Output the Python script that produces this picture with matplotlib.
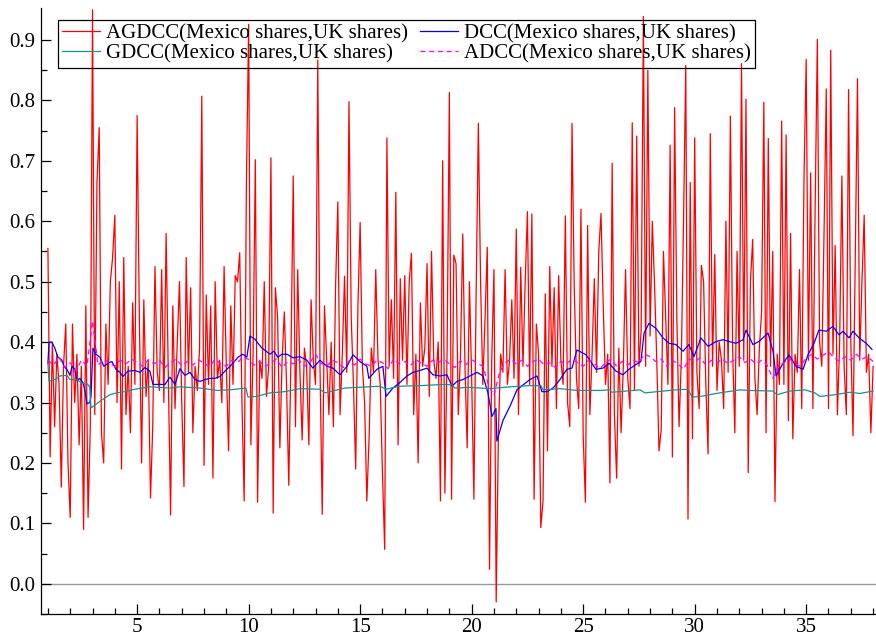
import matplotlib
matplotlib.use("Agg")
import matplotlib.pyplot as plt
import numpy as np

plt.rcParams['font.family'] = ['Liberation Serif', 'DejaVu Serif']

# AGDCC correlation, ten observations per unit from 1.0 to 38.0
agdcc = [
    0.555, 0.21, 0.40, 0.26, 0.38, 0.33, 0.16, 0.36, 0.43, 0.20,
    0.11, 0.43, 0.30, 0.38, 0.23, 0.36, 0.09, 0.46, 0.11, 0.26,
    0.95, 0.28, 0.665, 0.755, 0.25, 0.20, 0.43, 0.33, 0.50, 0.54,
    0.61, 0.30, 0.50, 0.19, 0.54, 0.28, 0.36, 0.25, 0.465, 0.33,
    0.775, 0.44, 0.20, 0.47, 0.31, 0.37, 0.142, 0.26, 0.525, 0.35,
    0.32, 0.52, 0.30, 0.58, 0.34, 0.114, 0.46, 0.29, 0.40, 0.50,
    0.30, 0.161, 0.54, 0.35, 0.49, 0.25, 0.36, 0.32, 0.39, 0.807,
    0.196, 0.478, 0.33, 0.46, 0.175, 0.50, 0.34, 0.37, 0.30, 0.525,
    0.36, 0.22, 0.46, 0.33, 0.51, 0.50, 0.548, 0.30, 0.137, 0.664,
    0.926, 0.23, 0.38, 0.702, 0.135, 0.37, 0.34, 0.50, 0.31, 0.36,
    0.705, 0.117, 0.49, 0.44, 0.225, 0.37, 0.45, 0.33, 0.163, 0.38,
    0.675, 0.26, 0.52, 0.35, 0.238, 0.39, 0.36, 0.23, 0.47, 0.37,
    0.33, 0.867, 0.36, 0.115, 0.46, 0.37, 0.28, 0.40, 0.26, 0.495,
    0.632, 0.28, 0.38, 0.509, 0.35, 0.798, 0.44, 0.33, 0.19, 0.46,
    0.598, 0.36, 0.30, 0.137, 0.24, 0.39, 0.35, 0.52, 0.37, 0.33,
    0.185, 0.057, 0.738, 0.36, 0.47, 0.34, 0.648, 0.23, 0.505, 0.37,
    0.51, 0.33, 0.50, 0.547, 0.28, 0.38, 0.20, 0.465, 0.36, 0.39,
    0.53, 0.31, 0.55, 0.37, 0.34, 0.40, 0.137, 0.70, 0.15, 0.39,
    0.813, 0.14, 0.544, 0.53, 0.28, 0.38, 0.579, 0.36, 0.225, 0.50,
    0.34, 0.14, 0.48, 0.762, 0.50, 0.33, 0.44, 0.557, 0.024, 0.37,
    0.52, -0.03, 0.25, 0.38, 0.35, 0.52, 0.33, 0.37, 0.47, 0.34,
    0.587, 0.28, 0.524, 0.36, 0.50, 0.616, 0.33, 0.612, 0.14, 0.43,
    0.38, 0.093, 0.137, 0.48, 0.22, 0.525, 0.36, 0.49, 0.29, 0.51,
    0.37, 0.33, 0.609, 0.30, 0.26, 0.762, 0.49, 0.34, 0.29, 0.62,
    0.245, 0.135, 0.593, 0.28, 0.38, 0.505, 0.35, 0.55, 0.613, 0.46,
    0.33, 0.38, 0.167, 0.696, 0.28, 0.175, 0.39, 0.25, 0.36, 0.52,
    0.34, 0.29, 0.763, 0.32, 0.741, 0.36, 0.42, 0.939, 0.36, 0.85,
    0.41, 0.60, 0.495, 0.37, 0.22, 0.255, 0.55, 0.44, 0.33, 0.726,
    0.21, 0.788, 0.44, 0.26, 0.37, 0.60, 0.858, 0.107, 0.664, 0.24,
    0.738, 0.35, 0.29, 0.527, 0.50, 0.33, 0.215, 0.745, 0.36, 0.545,
    0.32, 0.40, 0.37, 0.29, 0.60, 0.35, 0.774, 0.39, 0.25, 0.55,
    0.36, 0.861, 0.37, 0.802, 0.184, 0.50, 0.57, 0.34, 0.28, 0.39,
    0.45, 0.797, 0.25, 0.737, 0.36, 0.55, 0.136, 0.38, 0.33, 0.766,
    0.33, 0.743, 0.27, 0.58, 0.24, 0.38, 0.35, 0.52, 0.29, 0.668,
    0.868, 0.37, 0.68, 0.29, 0.62, 0.901, 0.40, 0.36, 0.58, 0.819,
    0.29, 0.883, 0.38, 0.56, 0.28, 0.40, 0.675, 0.36, 0.28, 0.818,
    0.40, 0.245, 0.54, 0.836, 0.37, 0.50, 0.61, 0.35, 0.38, 0.25,
    0.36,
]

dcc_t = [1.0, 1.05, 1.18, 1.31, 1.45, 1.63, 1.72, 1.85, 1.99, 2.08, 2.21, 2.30,
         2.43, 2.57, 2.66, 2.75, 2.88, 2.93, 3.02, 3.15, 3.33, 3.51, 3.69, 3.87,
         4.05, 4.23, 4.36, 4.59, 4.90, 5.13, 5.35, 5.57, 5.71, 6.02, 6.25, 6.47,
         6.70, 6.92, 7.14, 7.37, 7.59, 7.82, 8.04, 8.26, 8.49, 8.71, 8.94, 9.16,
         9.30, 9.52, 9.74, 9.92, 10.06, 10.28, 10.42, 10.60, 10.78, 10.96, 11.13,
         11.31, 11.49, 11.72, 11.99, 12.30, 12.61, 12.88, 13.20, 13.51, 13.78,
         14.09, 14.41, 14.68, 14.99, 15.30, 15.39, 15.75, 16.02, 16.16, 16.47,
         16.78, 17.10, 17.37, 17.68, 18.00, 18.26, 18.58, 18.89, 19.12, 19.34,
         19.61, 19.92, 20.24, 20.51, 20.73, 20.91, 21.09, 21.13, 21.40, 21.72,
         22.03, 22.30, 22.61, 22.93, 23.15, 23.38, 23.65, 23.96, 24.27, 24.50,
         24.72, 25.13, 25.57, 25.89, 26.16, 26.47, 26.78, 27.05, 27.37, 27.59,
         27.73, 27.95, 28.26, 28.58, 28.85, 29.16, 29.48, 29.74, 29.97, 30.28,
         30.60, 30.96, 31.27, 31.54, 31.85, 32.17, 32.30, 32.61, 32.88, 33.29,
         33.51, 33.65, 33.96, 34.23, 34.54, 34.86, 35.08, 35.35, 35.57, 35.89,
         36.20, 36.47, 36.65, 36.92, 37.10, 37.37, 37.69, 37.95]
dcc = [0.365, 0.40, 0.40, 0.39, 0.375, 0.37, 0.36, 0.355, 0.345, 0.36, 0.355, 0.336,
       0.34, 0.333, 0.32, 0.298, 0.30, 0.31, 0.39, 0.38, 0.375, 0.36, 0.365, 0.368,
       0.355, 0.35, 0.343, 0.352, 0.353, 0.35, 0.358, 0.352, 0.33, 0.33, 0.33, 0.342,
       0.33, 0.356, 0.345, 0.35, 0.338, 0.335, 0.338, 0.34, 0.34, 0.343, 0.352, 0.36,
       0.365, 0.375, 0.38, 0.375, 0.41, 0.405, 0.398, 0.39, 0.385, 0.38, 0.385,
       0.375, 0.38, 0.38, 0.374, 0.376, 0.37, 0.357, 0.37, 0.36, 0.357,
       0.346, 0.36, 0.379, 0.368, 0.36, 0.34, 0.355, 0.36, 0.31, 0.324,
       0.333, 0.344, 0.35, 0.353, 0.357, 0.346, 0.344, 0.346, 0.327, 0.335,
       0.338, 0.344, 0.35, 0.344, 0.316, 0.277, 0.29, 0.236, 0.27, 0.294,
       0.321, 0.329, 0.338, 0.344, 0.318, 0.318, 0.324, 0.338, 0.355, 0.357,
       0.387, 0.379, 0.355, 0.357, 0.365, 0.352, 0.346, 0.355, 0.363, 0.368,
       0.415, 0.431, 0.423, 0.407, 0.398, 0.396, 0.385, 0.396, 0.376, 0.407,
       0.393, 0.401, 0.404, 0.401, 0.398, 0.404, 0.42, 0.396, 0.401, 0.415,
       0.385, 0.344, 0.365, 0.379, 0.36, 0.355, 0.379, 0.398, 0.42, 0.418,
       0.426, 0.412, 0.418, 0.407, 0.418, 0.407, 0.398, 0.388]

gdcc_t = [1.0, 1.05, 1.31, 1.54, 1.85, 1.99, 2.30, 2.52, 2.79, 2.88, 2.93, 3.33,
          3.78, 4.09, 4.45, 4.90, 5.57, 6.47, 6.92, 7.82, 8.58, 9.16, 9.88, 9.97,
          10.33, 10.96, 11.63, 12.30, 13.20, 13.42, 14.32, 15.89, 16.16, 16.78,
          17.68, 18.80, 19.12, 19.25, 19.92, 20.82, 21.72, 22.61, 23.11, 23.20,
          23.96, 24.72, 25.75, 26.20, 26.29, 27.55, 27.77, 29.16, 29.70, 29.88,
          30.24, 31.13, 32.03, 32.48, 33.51, 33.69, 34.27, 34.95, 35.39, 35.62,
          36.29, 36.96, 37.41, 38.0]
gdcc = [0.365, 0.335, 0.338, 0.344, 0.345, 0.338, 0.338, 0.332, 0.33, 0.325, 0.291, 0.302,
        0.313, 0.316, 0.318, 0.322, 0.326, 0.324, 0.326, 0.324, 0.32, 0.321, 0.324, 0.309,
        0.31, 0.316, 0.318, 0.323, 0.322, 0.316, 0.324, 0.327, 0.322, 0.327,
        0.328, 0.33, 0.329, 0.324, 0.325, 0.323, 0.326, 0.328, 0.328, 0.321,
        0.323, 0.32, 0.32, 0.321, 0.317, 0.321, 0.316, 0.321, 0.322, 0.309,
        0.31, 0.316, 0.321, 0.32, 0.319, 0.313, 0.319, 0.321, 0.316, 0.31,
        0.313, 0.317, 0.315, 0.319]

# ADCC, four observations per unit
adcc = [
    0.370, 0.362, 0.375, 0.358,
    0.366, 0.352, 0.370, 0.360,
    0.435, 0.362, 0.372, 0.365,
    0.360, 0.370, 0.364, 0.372,
    0.366, 0.360, 0.371, 0.364,
    0.370, 0.358, 0.366, 0.372,
    0.361, 0.368, 0.362, 0.371,
    0.365, 0.359, 0.372, 0.364,
    0.360, 0.370, 0.366, 0.376,
    0.371, 0.362, 0.368, 0.360,
    0.366, 0.372, 0.358, 0.368,
    0.364, 0.371, 0.360, 0.366,
    0.380, 0.365, 0.360, 0.370,
    0.366, 0.358, 0.369, 0.362,
    0.372, 0.364, 0.360, 0.370,
    0.366, 0.356, 0.372, 0.364,
    0.368, 0.361, 0.371, 0.365,
    0.360, 0.370, 0.366, 0.372,
    0.364, 0.358, 0.369, 0.363,
    0.371, 0.365, 0.360, 0.330,
    0.312, 0.350, 0.366, 0.372,
    0.364, 0.370, 0.360, 0.368,
    0.372, 0.362, 0.366, 0.358,
    0.368, 0.364, 0.372, 0.366,
    0.360, 0.370, 0.364, 0.356,
    0.366, 0.372, 0.360, 0.368,
    0.362, 0.370, 0.366, 0.380,
    0.376, 0.368, 0.372, 0.360,
    0.370, 0.364, 0.355, 0.372,
    0.368, 0.374, 0.362, 0.370,
    0.366, 0.372, 0.364, 0.370,
    0.376, 0.366, 0.372, 0.364,
    0.370, 0.362, 0.340, 0.360,
    0.366, 0.372, 0.364, 0.360,
    0.374, 0.380, 0.372, 0.378,
    0.384, 0.374, 0.368, 0.376,
    0.370, 0.380, 0.372, 0.376,
    0.368,
]

names = ["AGDCC(Mexico shares,UK shares)", "DCC(Mexico shares,UK shares)",
         "GDCC(Mexico shares,UK shares)", "ADCC(Mexico shares,UK shares)"]

t_agdcc = 1 + np.arange(len(agdcc)) / 10
t_adcc = 1 + np.arange(len(adcc)) / 4

fig = plt.figure(figsize=(8.76, 6.42), dpi=100)
ax = fig.add_axes([41 / 876, 28 / 642, 835 / 876, 606 / 642])

ax.axhline(0, color='#999999', lw=1.0, zorder=1)
l1, = ax.plot(t_agdcc, agdcc, color='#ff0000', lw=0.9, zorder=2)
l2, = ax.plot(dcc_t, dcc, color='#0000ff', lw=0.9, zorder=3)
l3, = ax.plot(gdcc_t, gdcc, color='#1b8f8f', lw=0.9, zorder=3)
l4, = ax.plot(t_adcc, adcc, color='#ff00ff', lw=0.9, ls=(0, (4, 3)), zorder=4)

ax.set_xlim(0.69, 38.13)
ax.set_ylim(-0.049, 0.953)

ax.spines['top'].set_visible(False)
ax.spines['right'].set_visible(False)
ax.spines['left'].set_linewidth(0.9)
ax.spines['bottom'].set_linewidth(0.9)

ax.set_xticks([5, 10, 15, 20, 25, 30, 35])
ax.set_xticks(np.arange(1, 39), minor=True)
ax.set_yticks(np.arange(0, 0.95, 0.1))
ax.set_yticks(np.arange(-0.05, 0.95, 0.05), minor=True)
ax.yaxis.set_major_formatter(matplotlib.ticker.FormatStrFormatter('%.1f'))
ax.tick_params(which='both', direction='in', top=False, right=False,
               labelsize=15, width=0.9)
ax.tick_params(which='major', length=7)
ax.tick_params(which='minor', length=4)
ax.tick_params(axis='y', pad=4)
ax.tick_params(axis='x', pad=3)

# legend box without fill, thin black frame, two columns
leg = ax.legend([l1, l3, l2, l4], [names[0], names[2], names[1], names[3]],
                ncol=2, loc='upper left', bbox_to_anchor=(17 / 835, 1 - 12 / 606),
                fontsize=15, frameon=True, fancybox=False, facecolor='none',
                edgecolor='black', handlelength=1.8, handletextpad=0.3,
                columnspacing=0.6, labelspacing=0.0, borderpad=0.2,
                borderaxespad=0)
leg.get_frame().set_linewidth(0.9)
leg.get_frame().set_alpha(None)

fig.savefig("out.png", dpi=100)
